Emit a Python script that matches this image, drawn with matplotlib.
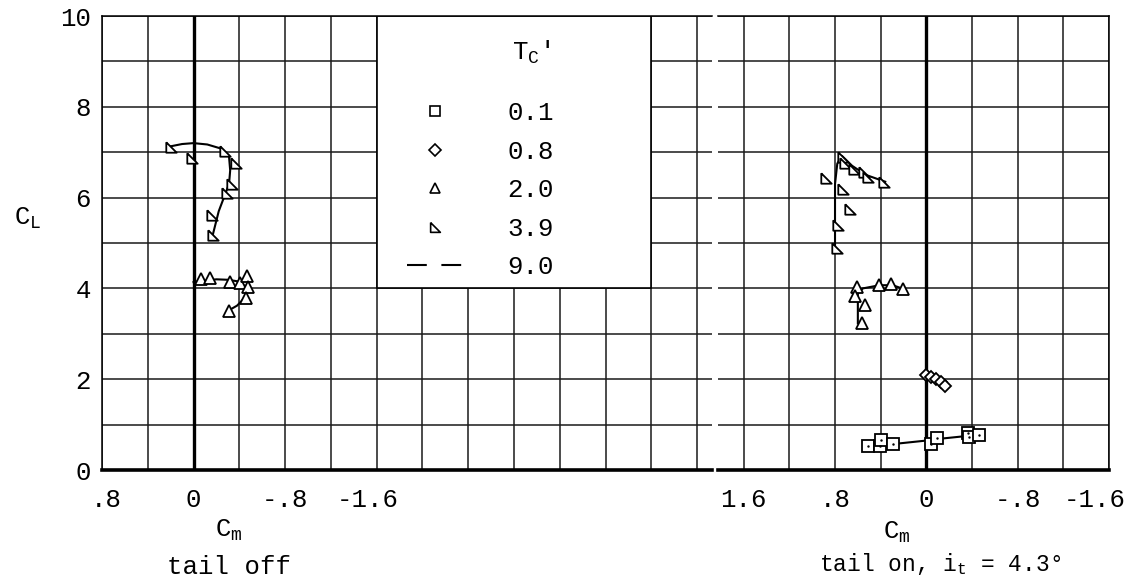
import numpy as np
import matplotlib.pyplot as plt
import matplotlib.transforms as mtransforms
from matplotlib.patches import Rectangle
from matplotlib.lines import Line2D

plt.rcParams['font.family'] = ['Liberation Mono', 'DejaVu Sans Mono']
plt.rcParams['mathtext.fontset'] = 'custom'
plt.rcParams['mathtext.rm'] = 'Liberation Mono'
plt.rcParams['mathtext.it'] = 'Liberation Mono'

# tail off, Tc' = 3.9
off39_cm = [0.195, 0.011, -0.271, -0.367, -0.332, -0.294, -0.163, -0.172]
off39_cl = [7.12, 6.87, 7.03, 6.76, 6.31, 6.11, 5.62, 5.18]
off39_fair_cm = [0.22, 0.10, 0.0, -0.12, -0.24, -0.31, -0.32, -0.31, -0.28, -0.22, -0.17]
off39_fair_cl = [7.12, 7.18, 7.20, 7.17, 7.08, 6.90, 6.60, 6.30, 6.10, 5.70, 5.20]
# tail off, Tc' = 2.0
off20_cm = [-0.067, -0.148, -0.317, -0.41, -0.469, -0.478, -0.46, -0.308]
off20_cl = [4.20, 4.22, 4.13, 4.11, 4.27, 4.02, 3.78, 3.51]
off20_fair_cm = [0.0, -0.10, -0.20, -0.30, -0.40, -0.46, -0.45, -0.38, -0.31]
off20_fair_cl = [4.14, 4.17, 4.20, 4.19, 4.15, 4.02, 3.80, 3.62, 3.52]

# tail on, Tc' = 3.9
on39_cm = [0.731, 0.716, 0.638, 0.550, 0.515, 0.367, 0.882, 0.731, 0.673, 0.775, 0.783]
on39_cl = [6.90, 6.76, 6.62, 6.57, 6.46, 6.35, 6.43, 6.18, 5.74, 5.40, 4.88]
on39_fair_cm = [0.80, 0.80, 0.80, 0.78, 0.74, 0.65, 0.53, 0.36]
on39_fair_cl = [4.88, 5.50, 6.30, 6.75, 6.92, 6.70, 6.50, 6.35]
# tail on, Tc' = 2.0
on20_cm = [0.609, 0.629, 0.541, 0.562, 0.411, 0.308, 0.201]
on20_cl = [4.04, 3.83, 3.63, 3.24, 4.07, 4.10, 3.98]
on20_fair_cm = [0.60, 0.60, 0.556, 0.41, 0.294, 0.192]
on20_fair_cl = [3.23, 3.89, 4.00, 4.07, 4.07, 3.98]
# tail on, Tc' = 0.8
on08_cm = [0.003, -0.041, -0.085, -0.128, -0.163]
on08_cl = [2.09, 2.05, 2.00, 1.94, 1.85]
# tail on, Tc' = 0.1
on01_cm = [0.513, 0.41, 0.396, 0.294, -0.041, -0.09, -0.361, -0.376, -0.463]
on01_cl = [0.535, 0.535, 0.66, 0.57, 0.566, 0.70, 0.81, 0.72, 0.77]
on01_fair_cm = [0.41, 0.297, -0.044, -0.087, -0.358]
on01_fair_cl = [0.59, 0.57, 0.66, 0.68, 0.75]

legend_values = ['0.1', '0.8', '2.0', '3.9', '9.0']
left_labels = {0.8: '.8', 0.0: '0', -0.8: '-.8', -1.6: '-1.6'}
right_labels = {1.6: '1.6', 0.8: '.8', 0.0: '0', -0.8: '-.8', -1.6: '-1.6'}

flag_tri = [(-1, 1), (-1, -1), (1, -1), (-1, 1)]
FS = 18.5
W, H = 1137, 588

fig = plt.figure(figsize=(W / 100, H / 100), dpi=100)
axL = fig.add_axes([102 / W, 1 - 470 / H, 610 / W, 454 / H])
axR = fig.add_axes([718 / W, 1 - 470 / H, 391 / W, 454 / H])


def style(ax, xmin, xmax, labels, show_y):
    ax.set_xlim(xmin, xmax)
    ax.set_ylim(0, 10)
    xt = np.round(np.arange(-4.4, xmin + 0.01, 0.4), 1)
    xt = xt[(xt <= xmin + 1e-6) & (xt >= xmax - 1e-6)]
    ax.set_xticks(xt, [labels.get(round(v, 1) + 0.0, '') for v in xt])
    ax.set_yticks(range(11), [str(v) if v % 2 == 0 and show_y else '' for v in range(11)])
    ax.tick_params(length=0, labelsize=FS)
    ax.tick_params(axis='x', pad=13)
    ax.tick_params(axis='y', pad=8)
    ax.grid(True, color='#1a1a1a', lw=1.1)
    ax.axvline(0, color='black', lw=2.4, zorder=2)
    for s in ax.spines.values():
        s.set_linewidth(1.1)
    ax.spines['bottom'].set_linewidth(2.6)


def nudge(ax, text, dx_px):
    # shift a crowded tick label sideways, as on the original sheet
    for lab in ax.get_xticklabels():
        if lab.get_text() == text:
            off = mtransforms.ScaledTranslation(dx_px / 100, 0, fig.dpi_scale_trans)
            lab.set_transform(lab.get_transform() + off)


style(axL, 0.8, -4.53, left_labels, True)
style(axR, 1.825, -1.6, right_labels, False)
axL.spines['right'].set_visible(False)
axR.spines['left'].set_visible(False)
nudge(axL, '-1.6', -9)
nudge(axR, '-1.6', -14)
nudge(axL, '.8', 4)

mk = dict(color='black', mfc='white', mec='black', mew=1.3, ls='none', zorder=4)
ln = dict(color='black', lw=1.5, zorder=3)

axL.plot(off39_fair_cm, off39_fair_cl, **ln)
axL.plot(off39_cm, off39_cl, marker=flag_tri, ms=7.5, **mk)
axL.plot(off20_fair_cm, off20_fair_cl, **ln)
axL.plot(off20_cm, off20_cl, marker='^', ms=8, **mk)

axR.plot(on39_fair_cm, on39_fair_cl, **ln)
axR.plot(on39_cm, on39_cl, marker=flag_tri, ms=7.5, **mk)
axR.plot(on20_fair_cm, on20_fair_cl, **ln)
axR.plot(on20_cm, on20_cl, marker='^', ms=8, **mk)
axR.plot(on08_cm, on08_cl, marker='D', ms=6.5, **mk)
axR.plot(on01_fair_cm, on01_fair_cl, **ln)
axR.plot(on01_cm, on01_cl, marker='s', ms=8, **mk)
axR.plot(on01_cm, on01_cl, marker='.', ms=1.5, color='black', ls='none', zorder=5)

# legend panel covering the grid
axL.add_patch(Rectangle((-1.6, 4), -2.4, 6, facecolor='white', edgecolor='black',
                        lw=1.2, zorder=2.5))
axL.text(-2.95, 9.2, "T$_\\mathrm{C}$'", fontsize=FS, ha='center', va='center', zorder=6)
handles = [
    Line2D([], [], marker='s', ms=7, mfc='white', mec='black', mew=1.2, ls='none'),
    Line2D([], [], marker='D', ms=6.5, mfc='white', mec='black', mew=1.2, ls='none'),
    Line2D([], [], marker='^', ms=7, mfc='white', mec='black', mew=1.2, ls='none'),
    Line2D([], [], marker=flag_tri, ms=7, mfc='white', mec='black', mew=1.2, ls='none'),
    Line2D([], [], color='black', lw=1.5, dashes=(9.5, 7)),
]
leg = axL.legend(handles, legend_values, loc='upper left',
                 bbox_to_anchor=(-1.869, 8.12), bbox_transform=axL.transData,
                 frameon=False, fontsize=FS, borderpad=0, borderaxespad=0,
                 handlelength=2.15, handletextpad=1.75, labelspacing=0.56,
                 numpoints=1)
leg.set_zorder(6)

fig.text(28 / W, 1 - 218 / H, 'C$_\\mathrm{L}$', fontsize=FS, ha='center', va='center')
fig.text(229 / W, 1 - 530 / H, 'C$_\\mathrm{m}$', fontsize=FS, ha='center', va='center')
fig.text(229 / W, 1 - 567 / H, 'tail off', fontsize=FS, ha='center', va='center')
fig.text(897 / W, 1 - 532 / H, 'C$_\\mathrm{m}$', fontsize=FS, ha='center', va='center')
fig.text(940 / W, 1 - 564 / H, 'tail on, i$_\\mathrm{t}$ = 4.3°', fontsize=16.5,
         ha='center', va='center')

fig.savefig('out.png', dpi=100)
